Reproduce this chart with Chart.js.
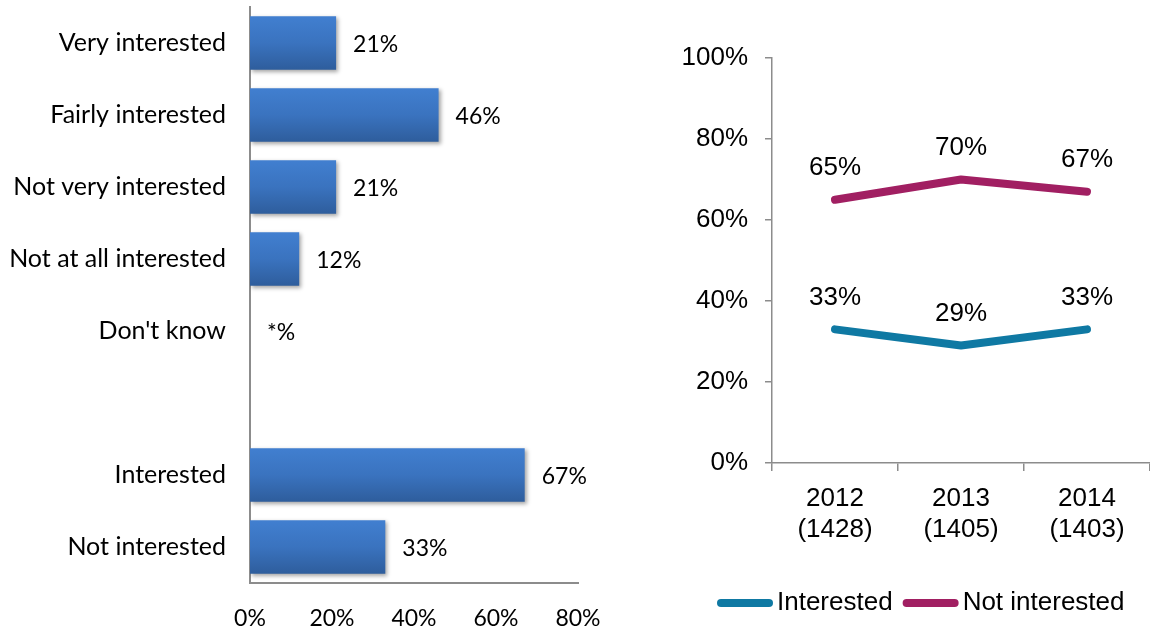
<!DOCTYPE html>
<html>
<head>
<meta charset="utf-8">
<script src="https://cdn.jsdelivr.net/npm/chart.js@4.4.1/dist/chart.umd.min.js"></script>
<style>
  html, body { margin: 0; padding: 0; background: #fff; }
  #wrap { position: relative; width: 1150px; height: 633px; overflow: hidden; }
  #barChart { position: absolute; left: 0; top: 0; }
  #lineChart { position: absolute; left: 620px; top: 0; }
</style>
</head>
<body>
<div id="wrap">
  <canvas id="barChart" width="620" height="633"></canvas>
  <canvas id="lineChart" width="530" height="633"></canvas>
</div>
<script>
// Interest breakdown (left) - blank category makes the gap before the totals
const barCategories = ['Very interested', 'Fairly interested', 'Not very interested', 'Not at all interested', "Don't know", '', 'Interested', 'Not interested'];
const barValues = [21, 46, 21, 12, 0, null, 67, 33];
const barValueLabels = ['21%', '46%', '21%', '12%', '*%', '', '67%', '33%'];

// Trend by year (right), base sizes in brackets
const years = [['2012', '(1428)'], ['2013', '(1405)'], ['2014', '(1403)']];
const interested = [33, 29, 33];
const notInterested = [65, 70, 67];
const seriesNames = ['Interested', 'Not interested'];
const seriesColors = ['#0f79a3', '#a11f62'];

const leftFont = 'Lato, "Open Sans", sans-serif';
const rightFont = '"Liberation Sans", Arial, sans-serif';

Chart.defaults.color = '#000';

function barFill(context) {
    const chart = context.chart;
    const yScale = chart.scales.y;
    if (!yScale || context.dataIndex === undefined) return '#3a75c4';
    const c = yScale.getPixelForValue(context.dataIndex);
    if (!isFinite(c)) return '#3a75c4';
    const g = chart.ctx.createLinearGradient(0, c - 27, 0, c + 27);
    g.addColorStop(0, '#417fd0');
    g.addColorStop(0.5, '#3a73bf');
    g.addColorStop(1, '#2e5d9c');
    return g;
}

// soft drop shadow under the bars
const barShadow = {
    id: 'barShadow',
    beforeDatasetsDraw(chart) {
        const ctx = chart.ctx;
        ctx.save();
        ctx.shadowColor = 'rgba(0,0,0,0.35)';
        ctx.shadowBlur = 4;
        ctx.shadowOffsetX = 2;
        ctx.shadowOffsetY = 2;
    },
    afterDatasetsDraw(chart) {
        chart.ctx.restore();
    }
};

const barLabels = {
    id: 'barLabels',
    afterDraw(chart) {
        const ctx = chart.ctx;
        const meta = chart.getDatasetMeta(0);
        ctx.save();
        ctx.font = '23px ' + leftFont;
        ctx.fillStyle = '#000';
        ctx.textAlign = 'left';
        ctx.textBaseline = 'middle';
        meta.data.forEach((bar, i) => {
            if (!barValueLabels[i]) return;
            ctx.fillText(barValueLabels[i], bar.x + 17, bar.y + 2);
        });
        ctx.restore();
    }
};

new Chart(document.getElementById('barChart'), {
    type: 'bar',
    data: {
        labels: barCategories,
        datasets: [{
            data: barValues,
            backgroundColor: barFill,
            borderWidth: 0,
            categoryPercentage: 1,
            barPercentage: 0.74
        }]
    },
    options: {
        indexAxis: 'y',
        responsive: false,
        animation: false,
        devicePixelRatio: 1,
        layout: { padding: { top: 7, right: 42, left: 0, bottom: 0 } },
        plugins: { legend: { display: false }, tooltip: { enabled: false } },
        scales: {
            y: {
                grid: { display: false, drawTicks: false },
                border: { color: '#8c8c8c', width: 2 },
                ticks: { font: { family: leftFont, size: 25 }, color: '#000', padding: 24 },
                afterFit(scale) {
                    scale.width = 250;
                    // tick padding would otherwise push the plot down
                    scale.paddingTop = 0;
                    scale.paddingBottom = 0;
                }
            },
            x: {
                min: 0,
                max: 80,
                grid: { display: false, drawTicks: false },
                border: { color: '#8c8c8c', width: 2 },
                ticks: {
                    stepSize: 20,
                    padding: 22,
                    font: { family: leftFont, size: 23 },
                    color: '#000',
                    callback: v => v + '%'
                },
                afterFit(scale) {
                    scale.height = 50;
                    scale.paddingLeft = 0;
                    scale.paddingRight = 0;
                }
            }
        }
    },
    plugins: [barShadow, barLabels]
});

const pointLabels = {
    id: 'pointLabels',
    afterDatasetsDraw(chart) {
        const ctx = chart.ctx;
        ctx.save();
        ctx.font = '26px ' + rightFont;
        ctx.fillStyle = '#000';
        ctx.textAlign = 'center';
        ctx.textBaseline = 'middle';
        chart.data.datasets.forEach((ds, d) => {
            chart.getDatasetMeta(d).data.forEach((pt, i) => {
                ctx.fillText(ds.data[i] + '%', pt.x, pt.y - 32);
            });
        });
        ctx.restore();
    }
};

// legend with thick rounded line swatches under the axis
const lineLegend = {
    id: 'lineLegend',
    afterDraw(chart) {
        const ctx = chart.ctx;
        const y = 603;
        let x = 97;
        ctx.save();
        ctx.font = '26px ' + rightFont;
        ctx.textBaseline = 'middle';
        ctx.textAlign = 'left';
        seriesNames.forEach((name, i) => {
            ctx.strokeStyle = seriesColors[i];
            ctx.lineWidth = 8;
            ctx.lineCap = 'round';
            ctx.beginPath();
            ctx.moveTo(x + 4, y);
            ctx.lineTo(x + 52, y);
            ctx.stroke();
            ctx.fillStyle = '#000';
            ctx.fillText(name, x + 60, y);
            x += 60 + ctx.measureText(name).width + 10;
        });
        ctx.restore();
    }
};

new Chart(document.getElementById('lineChart'), {
    type: 'line',
    data: {
        labels: years,
        datasets: [
            { label: seriesNames[0], data: interested, borderColor: seriesColors[0], backgroundColor: seriesColors[0] },
            { label: seriesNames[1], data: notInterested, borderColor: seriesColors[1], backgroundColor: seriesColors[1] }
        ]
    },
    options: {
        responsive: false,
        animation: false,
        devicePixelRatio: 1,
        layout: { padding: { top: 58, right: 0, left: 0, bottom: 0 } },
        elements: {
            line: { borderWidth: 8, tension: 0, borderCapStyle: 'round', borderJoinStyle: 'round' },
            point: { radius: 0, hoverRadius: 0 }
        },
        plugins: { legend: { display: false }, tooltip: { enabled: false } },
        scales: {
            y: {
                min: 0,
                max: 100,
                grid: { drawOnChartArea: false, color: '#8c8c8c', lineWidth: 1.5, tickLength: 7 },
                border: { color: '#8c8c8c', width: 1.5 },
                ticks: {
                    stepSize: 20,
                    padding: 17,
                    font: { family: rightFont, size: 26 },
                    color: '#000',
                    callback: v => v + '%'
                },
                afterFit(scale) { scale.width = 152; }
            },
            x: {
                offset: true,
                grid: { drawOnChartArea: false, offset: true, color: '#8c8c8c', lineWidth: 1.5, tickLength: 8 },
                border: { color: '#8c8c8c', width: 1.5 },
                ticks: {
                    padding: 12,
                    font: { family: rightFont, size: 26 },
                    color: '#000',
                    maxRotation: 0
                },
                afterFit(scale) { scale.height = 170; }
            }
        }
    },
    plugins: [pointLabels, lineLegend]
});
</script>
</body>
</html>
